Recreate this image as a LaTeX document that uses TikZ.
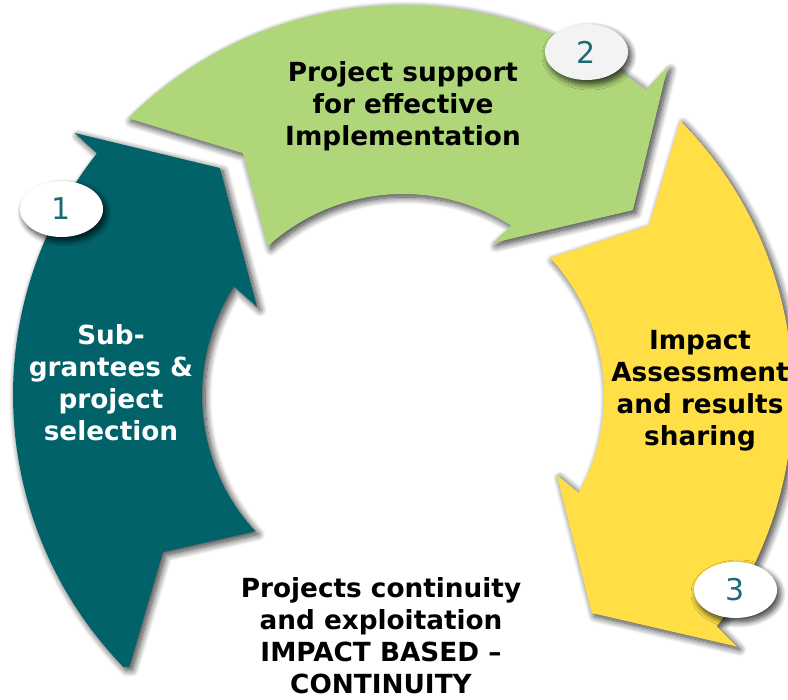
\documentclass[tikz,border=0pt]{standalone}
\usepackage{fontspec}
\setmainfont{DejaVu Sans}
\usetikzlibrary{shapes.geometric,shadows.blur}

\definecolor{petrol}{HTML}{01626A}
\definecolor{leaf}{HTML}{AFD678}
\definecolor{sun}{HTML}{FFDF45}
\definecolor{numteal}{HTML}{1A6B73}
\definecolor{badgegray}{HTML}{F3F3F3}

\begin{document}
\begin{tikzpicture}[x=1pt,y=1pt,
  arrowshade/.style={blur shadow={shadow xshift=3pt,shadow yshift=-3pt,
      shadow blur radius=7pt,shadow blur steps=14,shadow opacity=80}},
  lbl/.style={font=\bfseries\fontsize{26.3}{32}\selectfont,align=center,inner sep=0pt},
  badge/.style={ellipse,minimum width=83pt,minimum height=56pt,inner sep=0pt,
      fill=white,text=numteal,font=\fontsize{30}{30}\selectfont,
      blur shadow={shadow xshift=3pt,shadow yshift=-4pt,
      shadow blur radius=6pt,shadow blur steps=12,shadow opacity=80}}]
\useasboundingbox (0,0) rectangle (788,700);

% three curved arrows around a common centre
\begin{scope}[shift={(403,305)}]
  % left arrow, pointing up
  \fill[petrol,arrowshade]
    (224.8:386pt) -- (213.2:287pt) -- (222.7:201pt)
    arc[start angle=222.7,end angle=147.3,radius=201pt]
    -- (148.9:170.5pt) -- (128.9:291.6pt) -- (141.4:420pt) -- (141.7:390pt)
    arc[start angle=141.7,end angle=224.2,radius=390pt] -- cycle;
  % top arrow, pointing right
  \fill[leaf,arrowshade]
    (134.8:390pt) -- (123.5:290pt) -- (132.2:201pt)
    arc[start angle=132.2,end angle=57.4,radius=201pt]
    -- (59.4:176.6pt) -- (38.8:295pt) -- (51.1:421.7pt) -- (51.5:390pt)
    arc[start angle=51.5,end angle=134.8,radius=390pt] -- cycle;
  % right arrow, pointing down
  \fill[sun,arrowshade]
    (44.7:390pt) -- (34.6:299pt) -- (43.0:201pt)
    arc[start angle=43.0,end angle=-29.1,radius=201pt]
    -- (-27.5:173.5pt) -- (-49.1:288.5pt) -- (-37:418pt) -- (-36.4:390pt)
    arc[start angle=-36.4,end angle=44.7,radius=390pt] -- cycle;
\end{scope}

% labels
\node[lbl,text=white] (selection) at (111,317)
  {Sub-\\grantees \&\\project\\selection};
\node[lbl] (support) at (403,594)
  {Project support\\for effective\\Implementation};
\node[lbl] (assessment) at (700,309)
  {Impact\\Assessment\\and results\\sharing};
\node[lbl] (continuity) at (381,64)
  {Projects continuity\\and exploitation\\IMPACT BASED –\\CONTINUITY};

% step numbers
\node[badge] (n1) at (61.5,491) {1};
\node[badge,fill=badgegray] (n2) at (586.5,648) {2};
\node[badge] (n3) at (735.5,110) {3};
\end{tikzpicture}
\end{document}
